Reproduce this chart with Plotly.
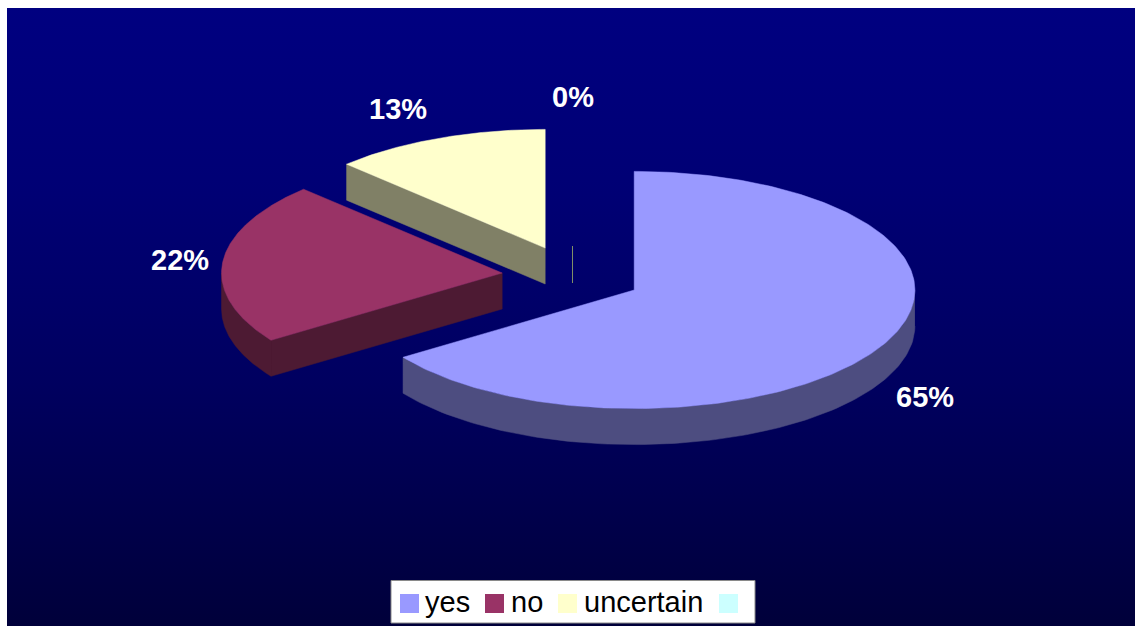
import numpy as np
import plotly.graph_objects as go

# ---- data ----
categories = ["yes", "no", "uncertain", ""]
values = [65.4, 22.09, 12.51, 0.0]
top_colors = ["#9999FF", "#993366", "#FFFFCC", "#CCFFFF"]
side_colors = ["#4D4D80", "#4D1A33", "#808066", "#808F66"]

# ---- layout constants (page pixels) ----
W, H = 1135, 626
BG_LEFT, BG_TOP = 7, 8
CX, CY, RX, RY, DEPTH = 634.2, 290.0, 280.7, 118.6, 36.0
explode = [(0, 0), (-132, -17), (-89, -42), (-61.7, -42)]
label_xy = [(925, 397), (180, 260), (398, 109), (573, 97)]
legend_swatch_x = [400, 485, 558, 719]
legend_text_x = [425, 511, 584, 745]


def rim(cx, cy, a0, a1, n=120):
    t = np.radians(np.linspace(a0, a1, n))
    return cx + RX * np.sin(t), cy - RY * np.cos(t)


fig = go.Figure()

# background gradient
fig.add_trace(go.Scatter(
    x=[BG_LEFT, W, W, BG_LEFT, BG_LEFT], y=[BG_TOP, BG_TOP, H, H, BG_TOP],
    mode="lines", line=dict(width=0),
    fill="toself", showlegend=False, hoverinfo="skip",
    fillgradient=dict(type="vertical",
                      colorscale=[[0, "#00003A"], [0.4, "#000060"], [0.7, "#000074"], [1, "#000080"]]),
))

total = sum(values)
angles = np.cumsum([0] + values) / total * 360.0

for i in [2, 3, 1, 0]:
    a0, a1 = angles[i], angles[i + 1]
    cx, cy = CX + explode[i][0], CY + explode[i][1]
    if values[i] == 0:
        fig.add_trace(go.Scatter(x=[cx, cx], y=[cy - 2, cy + DEPTH - 1], mode="lines",
                                 line=dict(color=side_colors[i], width=1),
                                 showlegend=False, hoverinfo="skip"))
        continue
    # cut edge on the starting radius (visible on the left half)
    if 180 < a0 < 360:
        ex, ey = rim(cx, cy, a0, a0, 1)
        fig.add_trace(go.Scatter(
            x=[cx, ex[0], ex[0], cx, cx],
            y=[cy, ey[0], ey[0] + DEPTH, cy + DEPTH, cy],
            mode="lines", line=dict(color=side_colors[i], width=0.5), fill="toself",
            fillcolor=side_colors[i], showlegend=False, hoverinfo="skip"))
    # outer rim, front half only
    lo, hi = max(a0, 90), min(a1, 270)
    if hi > lo:
        rx_, ry_ = rim(cx, cy, lo, hi)
        fig.add_trace(go.Scatter(
            x=np.r_[rx_, rx_[::-1]], y=np.r_[ry_, ry_[::-1] + DEPTH],
            mode="lines", line=dict(color=side_colors[i], width=0.5), fill="toself",
            fillcolor=side_colors[i], showlegend=False, hoverinfo="skip"))
    # top face
    tx, ty = rim(cx, cy, a0, a1, 240)
    fig.add_trace(go.Scatter(
        x=np.r_[cx, tx, cx], y=np.r_[cy, ty, cy],
        mode="lines", line=dict(color=top_colors[i], width=0.5), fill="toself",
        fillcolor=top_colors[i], name=categories[i], showlegend=False,
        hovertemplate=f"{categories[i]}: {values[i] / total:.0%}<extra></extra>"))

annotations = []
for v, (lx, ly) in zip(values, label_xy):
    annotations.append(dict(
        x=lx, y=ly, xref="x", yref="y", text=f"<b>{v / total:.0%}</b>", showarrow=False,
        font=dict(family="Liberation Sans", size=29, color="white"),
        xanchor="center", yanchor="middle"))

# legend box
shapes = [dict(type="rect", xref="x", yref="y", x0=391, x1=755, y0=580.5, y1=623,
               fillcolor="white", line=dict(color="#8A8A8A", width=1), layer="above")]
for c, col, sx, tx in zip(categories, top_colors, legend_swatch_x, legend_text_x):
    shapes.append(dict(type="rect", xref="x", yref="y", x0=sx, x1=sx + 19, y0=594, y1=613,
                       fillcolor=col, line=dict(width=0), layer="above"))
    if c:
        annotations.append(dict(
            x=tx, y=602, xref="x", yref="y", text=c, showarrow=False, xanchor="left",
            yanchor="middle", xshift=-2,
            font=dict(family="Liberation Sans", size=29, color="black")))

fig.update_layout(
    width=W, height=H, margin=dict(l=0, r=0, t=0, b=0),
    paper_bgcolor="white", plot_bgcolor="white", showlegend=False,
    xaxis=dict(range=[0, W], visible=False, fixedrange=True),
    yaxis=dict(range=[H, 0], visible=False, fixedrange=True),
    shapes=shapes, annotations=annotations,
)
fig.write_html("out.html", config=dict(displayModeBar=False),
               post_script="document.body.style.margin='0';document.documentElement.style.overflow='hidden';")
